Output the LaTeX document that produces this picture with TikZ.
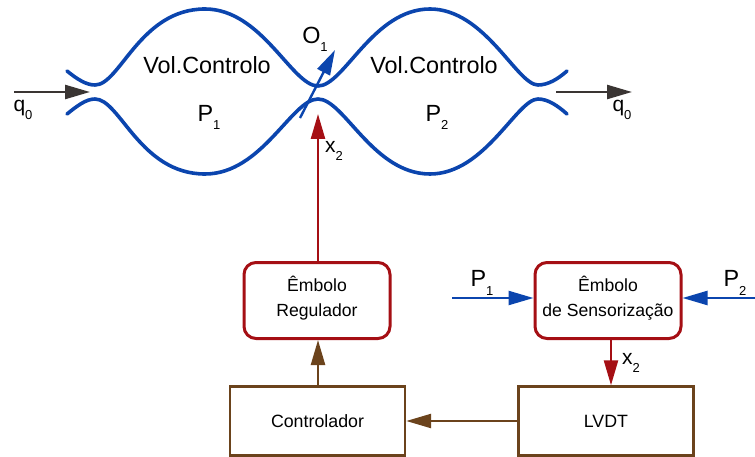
\documentclass[tikz,border=0pt]{standalone}
\usepackage{fontspec}
\setmainfont{Liberation Sans}
\usetikzlibrary{arrows.meta, calc}

\definecolor{azul}{HTML}{0B45AE}
\definecolor{vermelho}{HTML}{A50F14}
\definecolor{castanho}{HTML}{6B431C}
\definecolor{cinza}{HTML}{3A3533}
\newcommand{\idx}[1]{\raisebox{-0.7ex}{\fontsize{13}{13}\selectfont #1}}

\tikzset{
	bloco/.style={draw=vermelho, line width=3pt, rounded corners=12pt, fill=white, align=center, font=\fontsize{17.6}{25}\selectfont, inner sep=0pt, execute at end node={\rule[-8pt]{0pt}{8pt}}},
	caixa/.style={draw=castanho, line width=2.4pt, fill=white, align=center, font=\fontsize{17.8}{20}\selectfont, inner sep=0pt},
	rotulo/.style={font=\fontsize{23.4}{26}\selectfont, inner sep=0pt},
	menor/.style={font=\fontsize{21}{24}\selectfont, inner sep=0pt},
	seta/.style={-{Stealth[length=25pt, width=14pt, inset=0pt]}, line width=2.4pt},
}

\begin{document}
\begin{tikzpicture}[x=1pt, y=-1pt]
	\useasboundingbox (0,0) rectangle (755,457);

	% paredes da valvula
	\draw[azul, line width=3.6pt, line cap=round] (67,71)
	.. controls (77,79) and (86,85) .. (95,85)
	.. controls (120,85) and (140,9) .. (205,9)
	.. controls (262,9) and (292,86) .. (318,86)
	.. controls (344,86) and (373,9) .. (430,9)
	.. controls (485,9) and (517,85) .. (538,85)
	.. controls (548,85) and (558,79) .. (567,71);
	\draw[azul, line width=3.6pt, line cap=round] (67,114)
	.. controls (77,106) and (86,99) .. (95,99)
	.. controls (120,99) and (140,174) .. (205,174)
	.. controls (262,174) and (292,99) .. (318,99)
	.. controls (344,99) and (373,174) .. (430,174)
	.. controls (485,174) and (517,99) .. (538,99)
	.. controls (548,99) and (558,106) .. (567,114);

	% blocos
	\node[bloco, minimum width=146pt, minimum height=76pt] (regulador) at (317,300.5) {Êmbolo\\Regulador};
	\node[bloco, minimum width=146pt, minimum height=76pt] (sensor) at (608,300.5) {Êmbolo\\de Sensorização};
	\node[caixa, minimum width=175pt, minimum height=69pt] (controlador) at (317.5,421) {Controlador};
	\node[caixa, minimum width=175pt, minimum height=69pt] (lvdt) at (606,421) {LVDT};

	% extremidades livres
	\coordinate (q0a) at (14,92);
	\coordinate (q0b) at (90,92);
	\coordinate (q1a) at (556,92);
	\coordinate (q1b) at (632,92);
	\coordinate (o1a) at (300,118);
	\coordinate (o1b) at (335,50);
	\coordinate (valv) at (318,114);
	\coordinate (p1a) at (452,298);
	\coordinate (p2a) at (755,298);

	% setas
	\draw[seta, cinza] (q0a) -- (q0b);
	\draw[seta, cinza] (q1a) -- (q1b);
	\draw[seta, azul] (o1a) -- (o1b);
	\draw[seta, vermelho] (regulador.north -| valv) -- (valv);
	\draw[seta, castanho] (controlador.north -| valv) -- (regulador.south -| valv);
	\draw[seta, castanho] (lvdt.west |- controlador) -- (controlador.east);
	\draw[seta, azul] (p1a) -- (p1a -| sensor.west);
	\draw[seta, azul] (p2a) -- (p2a -| sensor.east);
	\draw[seta, vermelho] (sensor.south -| 611,0) -- (lvdt.north -| 611,0);

	% textos
	\node[rotulo] (vol1) at (207,65) {Vol.Controlo};
	\node[rotulo] (vol2) at (434,65) {Vol.Controlo};
	\node[rotulo] (p1) at (209,117.5) {P\idx{1}};
	\node[rotulo] (p2) at (437,117.5) {P\idx{2}};
	\node[rotulo] (o1) at (315,39.5) {O\idx{1}};
	\node[menor] (q0e) at (23,110) {q\idx{0}};
	\node[menor] (q0d) at (622,110) {q\idx{0}};
	\node[menor] (x2a) at (334,151) {x\idx{2}};
	\node[menor] (x2b) at (631,363) {x\idx{2}};
	\node[rotulo] (p1s) at (482,283) {P\idx{1}};
	\node[rotulo] (p2s) at (735,283) {P\idx{2}};
\end{tikzpicture}
\end{document}
